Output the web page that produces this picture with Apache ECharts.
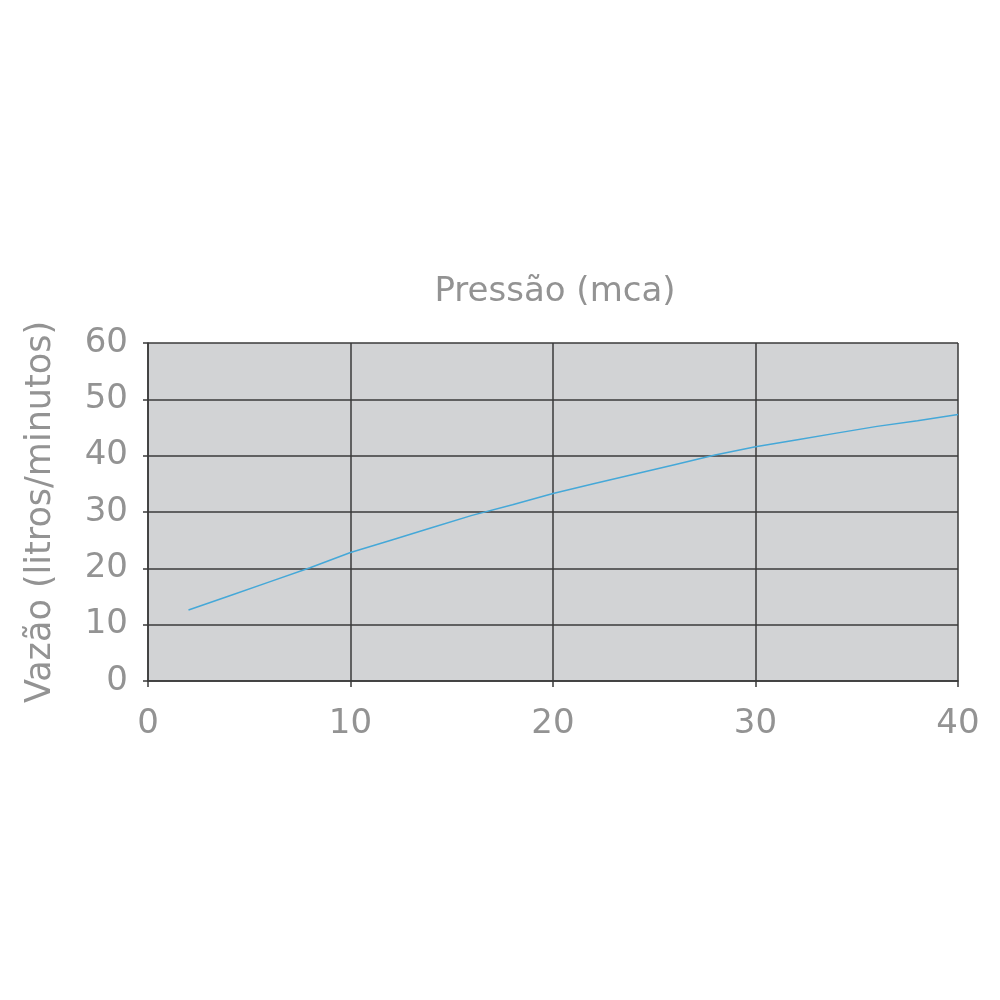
<!DOCTYPE html>
<html>
<head>
<meta charset="utf-8">
<style>
  html, body { margin: 0; padding: 0; background: #fff; }
  #chart { width: 1000px; height: 1000px; }
</style>
<script src="https://cdn.jsdelivr.net/npm/echarts@6/dist/echarts.min.js"></script>
</head>
<body>
<div id="chart"></div>
<script>
// pressure (mca) vs flow (litros/minutos)
const pressure = [2, 4, 6, 8, 10, 12, 14, 16, 18, 20, 22, 24, 26, 28, 30, 32, 34, 36, 38, 40];
const flow = [12.6, 15.1, 17.6, 20.1, 22.8, 25.0, 27.2, 29.4, 31.3, 33.3, 35.0, 36.7, 38.4, 40.1, 41.6, 42.8, 44.0, 45.2, 46.2, 47.3];

const textColor = '#939393';
const gridColor = '#3a3a3a';
const fontFamily = '"DejaVu Sans", sans-serif';

const chart = echarts.init(document.getElementById('chart'));
chart.setOption({
  animation: false,
  title: {
    text: 'Pressão (mca)',
    left: 550,
    top: 270,
    textAlign: 'center',
    textStyle: { color: textColor, fontSize: 34, fontWeight: 'normal', fontFamily },
  },
  grid: {
    left: 148,
    right: 42,
    top: 343,
    bottom: 319,
    containLabel: false,
    outerBoundsMode: 'none',
    show: true,
    backgroundColor: '#d2d3d5',
    borderWidth: 0,
  },
  xAxis: {
    type: 'value',
    min: 0,
    max: 40,
    interval: 10,
    axisLine: { show: true, lineStyle: { color: gridColor, width: 1.5 } },
    axisTick: { show: true, length: 6, lineStyle: { color: gridColor, width: 1.5 } },
    axisLabel: { color: textColor, fontSize: 34, fontFamily, margin: 26 },
    splitLine: { show: true, lineStyle: { color: gridColor, width: 1.5 } },
  },
  yAxis: {
    type: 'value',
    min: 0,
    max: 60,
    interval: 10,
    name: 'Vazão (litros/minutos)',
    nameLocation: 'middle',
    nameGap: 90,
    nameTextStyle: { color: textColor, fontSize: 35, fontFamily },
    axisLine: { show: true, lineStyle: { color: gridColor, width: 1.5 } },
    axisTick: { show: true, length: 5, lineStyle: { color: gridColor, width: 1.5 } },
    axisLabel: { color: textColor, fontSize: 34, fontFamily, margin: 20 },
    splitLine: { show: true, lineStyle: { color: gridColor, width: 1.5 } },
  },
  series: [
    {
      type: 'line',
      data: pressure.map((p, i) => [p, flow[i]]),
      showSymbol: false,
      lineStyle: { color: '#45a8d8', width: 1.5 },
    },
  ],
});
</script>
</body>
</html>
